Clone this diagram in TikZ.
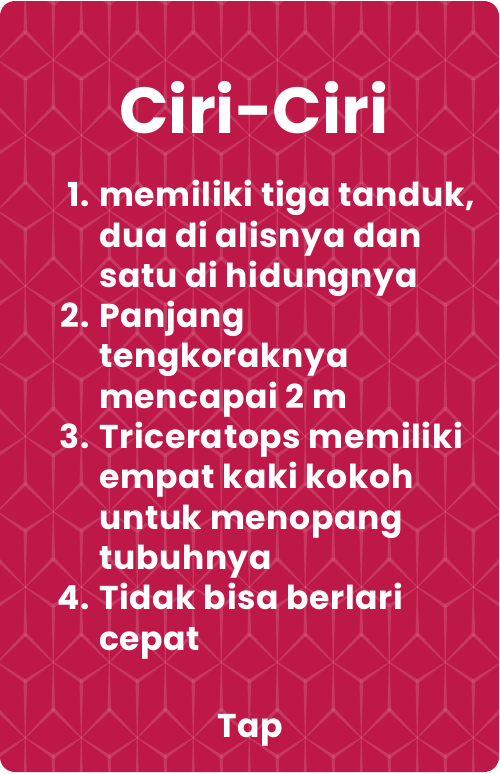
\documentclass[tikz,border=0pt]{standalone}
\usepackage{fontspec}
\setmainfont{Poppins}[BoldFont={Poppins Bold}]
\newfontfamily\bodyfont{Poppins}[BoldFont={Poppins Bold}, LetterSpace=2]
\usetikzlibrary{calc}
\definecolor{cardbg}{RGB}{190,24,72}
\tikzset{
  patline/.style={fill=white, fill opacity=0.14},
  bodytext/.style={text=white, font=\bodyfont\fontsize{33}{38}\selectfont\bfseries, inner sep=0pt},
  numtext/.style={bodytext, anchor=base east},
  itemtext/.style={bodytext, anchor=base west},
  titletext/.style={text=white, font=\fontsize{65}{76}\selectfont\bfseries, inner sep=0pt, anchor=base},
}
\newcommand\taperedge[2]{%
  \fill[patline] ($(#1)!1.8pt!90:(#2)$) -- ($(#2)!0.45pt!-90:(#1)$) --
    ($(#2)!0.45pt!90:(#1)$) -- ($(#1)!1.8pt!-90:(#2)$) -- cycle;}
\begin{document}
\begin{tikzpicture}[x=1pt,y=-1pt]
\useasboundingbox (0,0) rectangle (500,774);
\fill[white] (0,0) rectangle (500,774);
\begin{scope}
  \clip[rounded corners=15pt] (0,1) rectangle (499,772);
  \fill[cardbg] (0,0) rectangle (500,774);
  \foreach \k in {-1,...,10}{
    \pgfmathsetmacro\yk{60+75.3*\k}
    \pgfmathsetmacro\yb{\yk+75.3}
    \pgfmathsetmacro\yY{\yk+19}
    \pgfmathsetmacro\yL{\yk+47}
    \pgfmathsetmacro\xo{isodd(\k)?25.3:53.3}
    \foreach \i in {-2,...,9}{
      \pgfmathsetmacro\xa{\xo+56*\i}
      \pgfmathsetmacro\xb{\xa+56}
      \pgfmathsetmacro\xm{\xa+28}
      \pgfmathsetmacro\xl{\xa-28}
      \coordinate (Yv) at (\xm,\yY);
      \coordinate (Sa) at (\xa,\yk);
      \coordinate (Sb) at (\xb,\yk);
      \coordinate (Sc) at (\xm,\yb);
      \taperedge{Yv}{Sa}
      \taperedge{Yv}{Sb}
      \taperedge{Yv}{Sc}
      \coordinate (Lv) at (\xa,\yL);
      \coordinate (Sd) at (\xl,\yb);
      \taperedge{Lv}{Sa}
      \taperedge{Lv}{Sd}
      \taperedge{Lv}{Sc}
    }
  }
\end{scope}
\node[titletext] (title) at (254,133) {Ciri-Ciri};
\node[numtext] (n1) at (90,206.7) {1.};
\node[itemtext] (l1) at (99,206.7) {memiliki tiga tanduk,};
\node[itemtext] (l2) at (99,247.0) {dua di alisnya dan};
\node[itemtext] (l3) at (99,287.3) {satu di hidungnya};
\node[numtext] (n2) at (90,327.6) {2.};
\node[itemtext] (l4) at (99,327.6) {Panjang};
\node[itemtext] (l5) at (99,367.9) {tengkoraknya};
\node[itemtext] (l6) at (99,408.2) {mencapai 2 m};
\node[numtext] (n3) at (90,448.5) {3.};
\node[itemtext] (l7) at (99,448.5) {Triceratops memiliki};
\node[itemtext] (l8) at (99,488.8) {empat kaki kokoh};
\node[itemtext] (l9) at (99,529.1) {untuk menopang};
\node[itemtext] (l10) at (99,569.4) {tubuhnya};
\node[numtext] (n4) at (90,609.7) {4.};
\node[itemtext] (l11) at (99,609.7) {Tidak bisa berlari};
\node[itemtext] (l12) at (99,650.0) {cepat};
\node[bodytext, anchor=base] (tap) at (250,737) {Tap};
\end{tikzpicture}
\end{document}
